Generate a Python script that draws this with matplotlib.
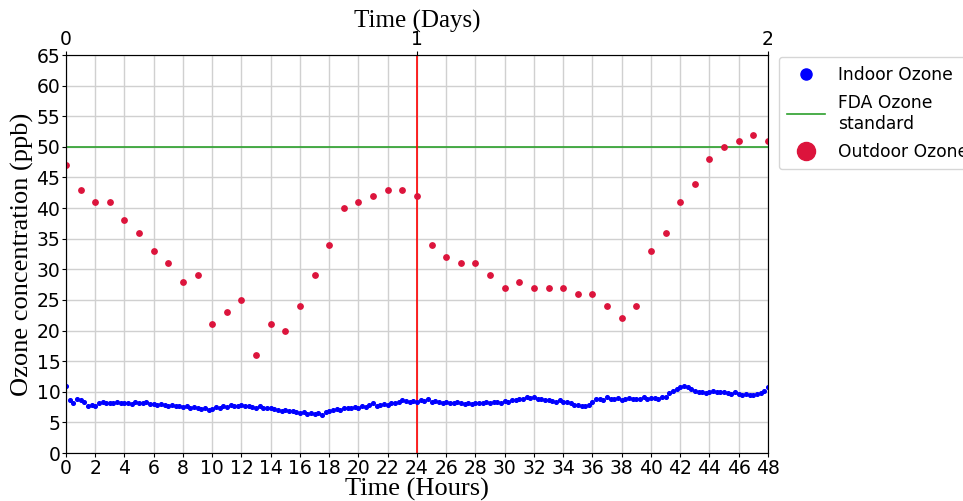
import numpy as np
import matplotlib.pyplot as plt
from matplotlib.lines import Line2D

# Outdoor ozone, hourly readings (ppb)
outdoor_hours = list(range(0, 49))
outdoor_ozone = [47, 43, 41, 41, 38, 36, 33, 31, 28, 29, 21, 23, 25, 16, 21, 20, 24,
                 29, 34, 40, 41, 42, 43, 43, 42, 34, 32, 31, 31, 29, 27, 28, 27, 27,
                 27, 26, 26, 24, 22, 24, 33, 36, 41, 44, 48, 50, 51, 52, 51]

# Indoor ozone, every 15 minutes (ppb)
indoor_ozone = [
    10.9, 8.7, 8.1, 8.9, 8.7, 8.3, 7.6, 7.9, 7.7, 8.2, 8.3, 8.1, 8.2, 8.1, 8.3, 8.2,
    8.1, 8.2, 8.0, 8.3, 8.2, 8.1, 8.3, 8.0, 8.0,
    7.9, 8.0, 7.8, 7.7, 7.8, 7.6, 7.7, 7.5, 7.6, 7.4, 7.5, 7.3, 7.2, 7.4, 7.1, 7.2,
    7.5, 7.3, 7.6, 7.5, 7.8, 7.6, 7.7, 7.8,
    7.6, 7.7, 7.5, 7.4, 7.6, 7.3, 7.4, 7.3, 7.2, 7.1, 6.9, 7.0, 6.8, 6.9, 6.7, 6.6,
    6.7, 6.4, 6.6, 6.3, 6.5, 6.2, 6.7, 6.8,
    7.0, 7.2, 7.1, 7.3, 7.4, 7.3, 7.5, 7.4, 7.6, 7.5, 7.9, 8.1, 7.7, 7.9, 8.0, 7.9,
    8.1, 8.2, 8.3, 8.6, 8.5, 8.4, 8.5, 8.4,
    8.6, 8.5, 8.8, 8.3, 8.5, 8.4, 8.2, 8.3, 8.2, 8.1, 8.3, 8.1, 8.0, 8.1, 8.0, 8.2,
    8.1, 8.2, 8.3, 8.2, 8.4, 8.3, 8.1, 8.5,
    8.4, 8.6, 8.7, 8.9, 8.8, 9.1, 9.0, 9.1, 8.9, 8.8, 8.6, 8.7, 8.5, 8.4, 8.6, 8.3,
    8.3, 8.1, 7.9, 7.8, 7.7, 7.6, 7.9, 8.4,
    8.8, 8.9, 8.7, 9.1, 8.9, 8.8, 9.0, 8.7, 8.8, 9.0, 8.9, 8.8, 8.9, 9.1, 8.8, 9.0,
    9.0, 8.9, 9.1, 9.2, 9.8, 10.1, 10.4, 10.8,
    10.9, 10.7, 10.4, 10.1, 9.9, 10.0, 9.8, 9.9, 10.1, 9.9, 10.0, 9.9, 9.8, 9.7, 9.9, 9.6,
    9.5, 9.6, 9.4, 9.5, 9.6, 9.8, 10.2, 10.8,
]
indoor_hours = np.arange(len(indoor_ozone)) * 0.25

fda_standard = 50
day_ticks = [0, 1, 2]

fig = plt.figure(figsize=(9.63, 5.01), dpi=100)
ax = fig.add_axes([0.0685, 0.0958, 0.729, 0.7944])

ax.grid(True, color='#d0d0d0', linewidth=1)
ax.set_axisbelow(True)

ax.scatter(indoor_hours, indoor_ozone, s=7, color='blue', zorder=3)
ax.axhline(fda_standard, color='#2ca02c', linewidth=1.2, zorder=2)
ax.scatter(outdoor_hours, outdoor_ozone, s=15, color='crimson', zorder=3)
ax.axvline(24, color='red', linewidth=1.2, zorder=2)

ax.set_xlim(0, 48)
ax.set_ylim(0, 65)
ax.set_xticks(np.arange(0, 49, 2))
ax.set_yticks(np.arange(0, 66, 5))
ax.tick_params(labelsize=13.5, length=3, pad=1)
for s in ax.spines.values():
    s.set_color('#555555')

serif = 'Liberation Serif'
ax.set_xlabel('Time (Hours)', fontsize=19, family=serif, labelpad=0)
ax.set_ylabel('Ozone concentration (ppb)', fontsize=19, family=serif, labelpad=2)

top = ax.twiny()
top.set_xlim(0, 2)
top.set_xticks(day_ticks)
top.tick_params(labelsize=13.5, length=3, pad=1)
top.set_xlabel('Time (Days)', fontsize=18, family=serif, labelpad=2)

handles = [
    Line2D([], [], marker='o', linestyle='none', color='blue', markersize=8),
    Line2D([], [], color='#2ca02c', linewidth=1.2),
    Line2D([], [], marker='o', linestyle='none', color='crimson', markersize=13),
]
labels = ['Indoor Ozone', 'FDA Ozone\nstandard', 'Outdoor Ozone']
ax.legend(handles, labels, loc='upper left', bbox_to_anchor=(1.015, 0.995),
          fontsize=12.3, handlelength=2.2, labelspacing=0.6, borderpad=0.5,
          borderaxespad=0, frameon=True)

fig.savefig('out.png', dpi=100)
